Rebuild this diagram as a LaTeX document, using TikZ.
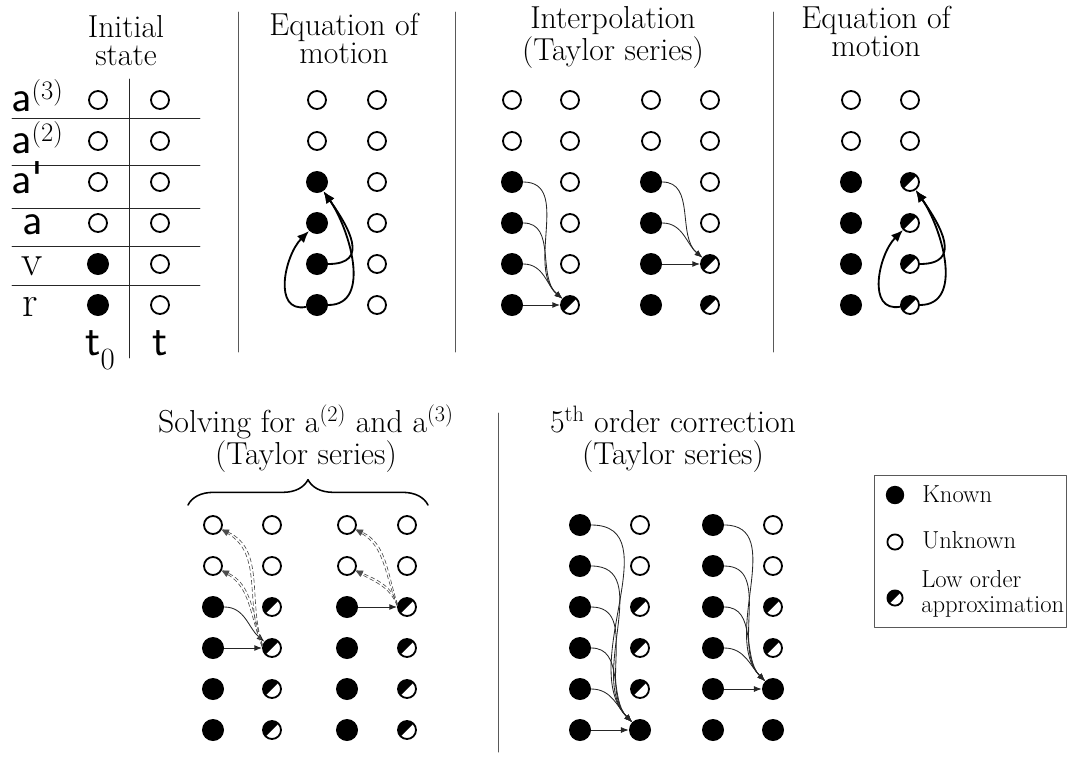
\documentclass[tikz,border=0pt]{standalone}
\usetikzlibrary{arrows.meta,decorations.pathreplacing}
\begin{document}
\begin{tikzpicture}[x=.025cm, y=.025cm, line cap=round, line join=round]
  \tikzset{known/.style={circle, fill=black, inner sep=0pt, minimum size=.55cm},
    unknown/.style={circle, draw=black, fill=white, line width=1.3pt, inner sep=0pt, minimum size=.45cm},
    lowap/.style={unknown, path picture={\fill[black] (path picture bounding box.south west) -- (path picture bounding box.north east) -- (path picture bounding box.north west) -- cycle;}},
    title/.style={anchor=base, inner sep=0pt, font=\fontsize{22.6}{20}\selectfont},
    sanslbl/.style={anchor=base west, inner sep=0pt, font=\sffamily\fontsize{32}{32}\selectfont},
    serlbl/.style={anchor=base west, inner sep=0pt, font=\fontsize{31}{31}\selectfont},
    legtext/.style={anchor=base west, inner sep=0pt, font=\fontsize{17.5}{18}\selectfont},
    sep/.style={draw=black!65, line width=.7pt},
    grid/.style={draw=black!85, line width=.6pt},
    eom/.style={-{Latex[length=8.5pt,width=7pt]}, line width=1.3pt},
    flow/.style={-{Latex[length=5.5pt,width=4.2pt]}, line width=.6pt, draw=black!85},
    back/.style={-{Latex[length=5pt,width=4pt]}, densely dashed, line width=.45pt, draw=black!70}}
  \useasboundingbox (0,0) rectangle (1068,-758);

  % (1): initial state, a table of the six quantities at t0 and t
  \node[title] (ti) at (126,-37) {\begin{tabular}[t]{@{}c@{}}Initial\\state\end{tabular}};
  \foreach \y in {118,165,208,246,285} {
    \draw[grid] (12,-\y) -- (200,-\y);
  }
  \draw[grid] (129,-79) -- (129,-358);
  \node[sanslbl] (la3) at (11,-111) {a\raisebox{8pt}{\rmfamily\fontsize{19}{19}\selectfont(3)}};
  \node[sanslbl] (la2) at (11,-153) {a\raisebox{8pt}{\rmfamily\fontsize{19}{19}\selectfont(2)}};
  \node[sanslbl] (la1) at (11,-193) {a\textquotesingle};
  \node[sanslbl] (la0) at (22,-234) {a};
  \node[serlbl] (lv) at (21,-275) {v};
  \node[serlbl] (lr) at (22,-316) {r};
  \node[sanslbl] (lt0) at (85,-355) {t\raisebox{-10.5pt}{\rmfamily\fontsize{22}{22}\selectfont 0}};
  \node[sanslbl, anchor=base] (lt) at (160,-355) {t};

  % (2)-(4): top row of steps
  \node[title] (te) at (344,-35) {\begin{tabular}[t]{@{}c@{}}Equation of\\motion\end{tabular}};
  \node[title] (tp) at (613,-28) {\begin{tabular}[t]{@{}c@{}}Interpolation\\(Taylor series)\end{tabular}};
  \node[title] (tf) at (876,-28) {\begin{tabular}[t]{@{}c@{}}Equation of\\motion\end{tabular}};
  \draw[sep] (238,-12) -- (238,-352);
  \draw[sep] (455,-12) -- (455,-352);
  \draw[sep] (773,-12) -- (773,-352);
  \foreach \col/\x/\sts in {ia/98/{unknown,unknown,unknown,unknown,known,known},
      ib/160/{unknown,unknown,unknown,unknown,unknown,unknown},
      ea/317/{unknown,unknown,known,known,known,known},
      eb/377/{unknown,unknown,unknown,unknown,unknown,unknown},
      pa/512/{unknown,unknown,known,known,known,known},
      pb/570/{unknown,unknown,unknown,unknown,unknown,lowap},
      qa/651/{unknown,unknown,known,known,known,known},
      qb/710/{unknown,unknown,unknown,unknown,lowap,lowap},
      fa/851/{unknown,unknown,known,known,known,known},
      fb/910/{unknown,unknown,lowap,lowap,lowap,lowap}} {
    \foreach \st [count=\row] in \sts {
      \node[\st] (\col\row) at (\x,{-100-41*(\row-1)}) {};
    }
  }

  % equation of motion: a from r, a' from r and v
  \draw[eom] (ea6) to[out=190, in=225, looseness=1.15] (ea4);
  \draw[eom] (ea6) to[out=0, in=-55, looseness=1] (ea3);
  \draw[eom] (ea5) to[out=0, in=-55, looseness=1.5] (ea3);
  \draw[eom] (fb6) to[out=190, in=225, looseness=1.15] (fb4);
  \draw[eom] (fb6) to[out=0, in=-55, looseness=1] (fb3);
  \draw[eom] (fb5) to[out=0, in=-55, looseness=1.5] (fb3);

  % interpolation of r and v at t
  \foreach \row in {3,4,5} {
    \draw[flow] (pa\row) to[out=0, in=140] (pb6);
  }
  \draw[flow] (pa6) -- (pb6);
  \foreach \row in {3,4} {
    \draw[flow] (qa\row) to[out=0, in=140] (qb5);
  }
  \draw[flow] (qa5) -- (qb5);

  % (5)-(6): bottom row of steps
  \node[title] (ts) at (306,-432) {\begin{tabular}[t]{@{}c@{}}Solving for a\textsuperscript{(2)} and a\textsuperscript{(3)}\\(Taylor series)\end{tabular}};
  \node[title] (tc) at (673,-432) {\begin{tabular}[t]{@{}c@{}}5\textsuperscript{th} order correction\\(Taylor series)\end{tabular}};
  \draw[sep] (498,-413) -- (498,-752);
  \draw[line width=1.1pt, decorate, decoration={brace, amplitude=18pt}] (188,-505) -- (428,-505);
  \foreach \col/\x/\sts in {sa/213/{unknown,unknown,known,known,known,known},
      sb/272/{unknown,unknown,lowap,lowap,lowap,lowap},
      ua/347/{unknown,unknown,known,known,known,known},
      ub/407/{unknown,unknown,lowap,lowap,lowap,lowap},
      ca/580/{known,known,known,known,known,known},
      cb/640/{unknown,unknown,lowap,lowap,lowap,known},
      da/713/{known,known,known,known,known,known},
      db/773/{unknown,unknown,lowap,lowap,known,known}} {
    \foreach \st [count=\row] in \sts {
      \node[\st] (\col\row) at (\x,{-525-41*(\row-1)}) {};
    }
  }

  % solving for the higher derivatives at t0
  \draw[flow] (sa3) to[out=0, in=140] (sb4);
  \draw[flow] (sa4) -- (sb4);
  \draw[flow] (ua3) -- (ub3);
  \foreach \tg in {1,2} {
    \draw[back] (sb4.172) to[out=112, in=-30] (sa\tg);
    \draw[back] (sb4.164) to[out=108, in=-25] (sa\tg);
    \draw[back] (ub3.172) to[out=112, in=-30] (ua\tg);
    \draw[back] (ub3.164) to[out=108, in=-25] (ua\tg);
  }

  % fifth order correction of r and v
  \foreach \row in {1,...,5} {
    \draw[flow] (ca\row) to[out=0, in=135] (cb6);
  }
  \draw[flow] (ca6) -- (cb6);
  \foreach \row in {1,...,4} {
    \draw[flow] (da\row) to[out=0, in=135] (db5);
  }
  \draw[flow] (da5) -- (db5);

  % legend
  \draw[sep] (874,-475) rectangle (1066,-627);
  \node[known, minimum size=.46cm] (lk) at (895,-495) {};
  \node[legtext] (lkt) at (922,-502) {Known};
  \node[unknown, minimum size=.38cm] (lu) at (895,-542) {};
  \node[legtext] (lut) at (922,-548) {Unknown};
  \node[lowap, minimum size=.38cm] (ll) at (895,-598) {};
  \node[legtext, align=left, anchor=north west] (llt) at (921,-570) {Low order\\approximation};
\end{tikzpicture}
\end{document}
